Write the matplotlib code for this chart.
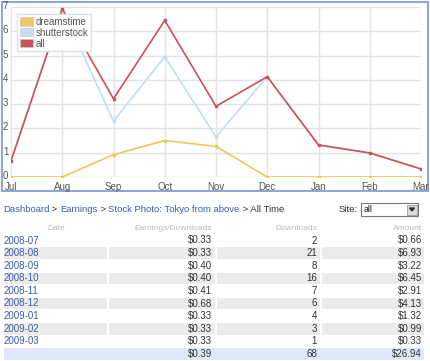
import matplotlib.pyplot as plt
import matplotlib.transforms as mtransforms
from matplotlib.patches import Rectangle

plt.rcParams['font.family'] = ['Liberation Sans', 'DejaVu Sans']

# chart data
months = ['Jul', 'Aug', 'Sep', 'Oct', 'Nov', 'Dec', 'Jan', 'Feb', 'Mar']
dreamstime = [0, 0, 0.92, 1.50, 1.26, 0, 0, 0, 0]
shutterstock = [0.66, 6.93, 2.30, 4.95, 1.65, 4.13, 1.32, 0.99, 0.33]
all_sites = [0.66, 6.93, 3.22, 6.45, 2.91, 4.13, 1.32, 0.99, 0.33]

# table data
dates = ['2008-07', '2008-08', '2008-09', '2008-10', '2008-11', '2008-12',
         '2009-01', '2009-02', '2009-03']
per_download = [0.33, 0.33, 0.40, 0.40, 0.41, 0.68, 0.33, 0.33, 0.33]
downloads = [2, 21, 8, 16, 7, 6, 4, 3, 1]
amounts = [0.66, 6.93, 3.22, 6.45, 2.91, 4.13, 1.32, 0.99, 0.33]
avg_per_download = 0.39
total_downloads = 68
total_amount = 26.94

W, H = 430, 361
fig = plt.figure(figsize=(W / 100, H / 100), dpi=100)

# background axes in pixel coordinates for the frame and the table
bg = fig.add_axes([0, 0, 1, 1])
bg.set_xlim(0, W)
bg.set_ylim(H, 0)
bg.axis('off')

bg.add_patch(Rectangle((1.5, 1.5), 426, 189, fill=False, edgecolor='#8ea6d8', lw=1.5))

# chart axes
x0, x1 = 11, 421
ytop, ybot = 7, 177
ax = fig.add_axes([x0 / W, 1 - ybot / H, (x1 - x0) / W, (ybot - ytop) / H])
xs = list(range(len(months)))
colors = ['#f0c75a', '#c5dcf4', '#cc5257']
ax.plot(xs, dreamstime, color=colors[0], lw=1.2, marker='s', ms=1.8, zorder=3)
ax.plot(xs, shutterstock, color=colors[1], lw=1.2, marker='s', ms=1.8, zorder=4)
ax.plot(xs, all_sites, color=colors[2], lw=1.2, marker='s', ms=1.8, zorder=5)
ax.set_xlim(0, len(months) - 1)
ax.set_ylim(0, 7)
ax.set_xticks(xs)
ax.set_xticklabels(months)
ax.set_yticks(range(8))
ax.grid(True, color='#e4e4e4', lw=1)
ax.set_axisbelow(True)
for s in ax.spines.values():
    s.set_visible(False)
ax.tick_params(length=0, labelsize=7, colors='#555555', pad=3.5)
ax.tick_params(axis='y', pad=2)
shift_up = mtransforms.ScaledTranslation(0, 2 / 100, fig.dpi_scale_trans)
for lab in ax.get_yticklabels():
    lab.set_verticalalignment('center_baseline')
    lab.set_transform(lab.get_transform() + shift_up)

# square swatches for the legend
handles = [Rectangle((0, 0), 1, 1, facecolor=c, edgecolor='#cccccc', lw=0.5) for c in colors]
leg = ax.legend(handles, ['dreamstime', 'shutterstock', 'all'], loc='upper left',
                bbox_to_anchor=(0.003, 0.985), fontsize=7, frameon=True, fancybox=False,
                edgecolor='#e0e0e0', framealpha=1, handlelength=1.4, handleheight=0.9,
                handletextpad=0.3, labelspacing=0.1, borderpad=0.25, labelcolor='#555555')
leg.set_zorder(10)

# breadcrumb
link = '#3b5dac'
dark = '#333333'
parts = [('Dashboard', link), (' > ', dark), ('Earnings', link), (' > ', dark),
         ('Stock Photo: Tokyo from above', link), (' > All Time', dark)]
fig.canvas.draw()
r = fig.canvas.get_renderer()
px = 3
for txt, col in parts:
    t = bg.text(px, 210, txt, color=col, fontsize=6.8, va='center', ha='left')
    bb = t.get_window_extent(renderer=r)
    px += bb.width

# site selector
bg.text(358, 210, 'Site:', color=dark, fontsize=6.8, va='center', ha='right')
bg.add_patch(Rectangle((361, 203), 57, 13, facecolor='white', edgecolor='#777777', lw=0.8))
bg.text(364, 210, 'all', color='#111111', fontsize=6.3, va='center', ha='left')
bg.add_patch(Rectangle((407, 204.5), 10, 10, facecolor='#dddddd', edgecolor='#999999', lw=0.6))
bg.fill([409.5, 414.5, 412], [208, 208, 211], color='#333333')

# table
hdr_y = 228
header_col = '#bbbbbb'
bg.text(56, hdr_y, 'Date', color=header_col, fontsize=6, ha='center', va='center')
bg.text(212, hdr_y, 'Earnings/Downloads', color=header_col, fontsize=6, ha='right', va='center')
bg.text(317, hdr_y, 'Downloads', color=header_col, fontsize=6, ha='right', va='center')
bg.text(422, hdr_y, 'Amount', color=header_col, fontsize=6, ha='right', va='center')

row_h = 12.6
y_first = 240.5
cols = [(4, 107), (109, 215), (217, 320), (322, 424)]
for i, d in enumerate(dates):
    yc = y_first + i * row_h
    if i % 2 == 1:
        for a, b in cols:
            bg.add_patch(Rectangle((a, yc - row_h / 2 + 0.5), b - a, row_h - 1,
                                   facecolor='#ebebeb', edgecolor='none'))
    bg.text(4, yc, d, color=link, fontsize=7, ha='left', va='center')
    bg.text(212, yc, f'${per_download[i]:.2f}', color=dark, fontsize=7, ha='right', va='center')
    bg.text(317, yc, str(downloads[i]), color=dark, fontsize=7, ha='right', va='center')
    bg.text(422, yc, f'${amounts[i]:.2f}', color=dark, fontsize=7, ha='right', va='center')

yc = y_first + len(dates) * row_h
bg.add_patch(Rectangle((4, yc - row_h / 2 + 0.5), 420, row_h - 1, facecolor='#dfe8f9',
                       edgecolor='none'))
bg.text(212, yc, f'${avg_per_download:.2f}', color=dark, fontsize=7, ha='right', va='center')
bg.text(317, yc, str(total_downloads), color=dark, fontsize=7, ha='right', va='center')
bg.text(422, yc, f'${total_amount:.2f}', color=dark, fontsize=7, ha='right', va='center')

fig.savefig('out.png', dpi=100)
